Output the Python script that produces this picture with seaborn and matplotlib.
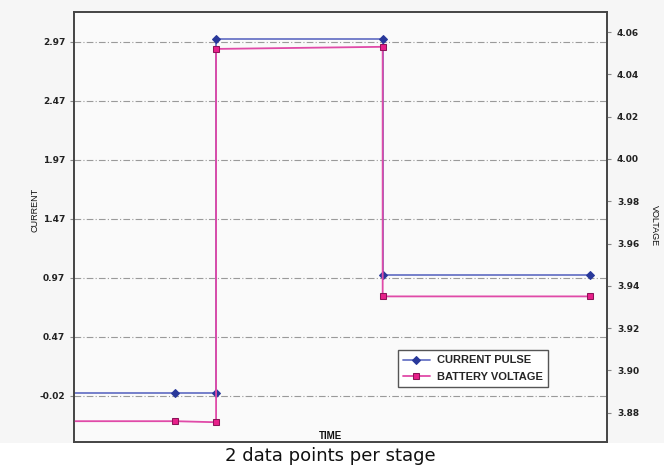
"""Current pulse vs battery voltage, step plot with two y axes."""

import matplotlib.pyplot as plt
import pandas as pd
import seaborn as sns
from matplotlib.patches import Rectangle

# Time stamps (arbitrary units), first point lies before the visible window
time = [-5.0, 10.15, 14.25, 14.25, 30.9, 30.9, 51.65]
current = [-0.01, -0.01, -0.01, 2.99, 2.99, 0.99, 0.99]
voltage = [3.876, 3.876, 3.8755, 4.052, 4.053, 3.935, 3.935]

current_ticks = [-0.03, 0.47, 0.97, 1.47, 1.97, 2.47, 2.97]
current_labels = ["-0.02", "0.47", "0.97", "1.47", "1.97", "2.47", "2.97"]
voltage_ticks = [3.88, 3.90, 3.92, 3.94, 3.96, 3.98, 4.00, 4.02, 4.04, 4.06]

df = pd.DataFrame({"time": time, "current": current, "voltage": voltage})

sns.set_style("white")
plt.rcParams["font.family"] = ["Liberation Sans", "DejaVu Sans"]

fig = plt.figure(figsize=(6.64, 4.70), dpi=100, facecolor="#f6f6f6")
fig.patches.append(
    Rectangle((0, 0), 1, 0.058, transform=fig.transFigure, facecolor="white",
              edgecolor="none", zorder=0)
)
ax = fig.add_axes([0.1107, 0.0602, 0.8039, 0.9149])
ax.set_facecolor("#fafafa")
ax2 = ax.twinx()

sns.lineplot(data=df, x="time", y="current", ax=ax, sort=False, estimator=None,
             color="#6a76c6", lw=1.3, marker="D", markersize=4.5,
             markerfacecolor="#28389a", markeredgecolor="#28389a",
             label="CURRENT PULSE", legend=False)
sns.lineplot(data=df, x="time", y="voltage", ax=ax2, sort=False, estimator=None,
             color="#e04aa8", lw=1.3, marker="s", markersize=4.5,
             markerfacecolor="#e8208a", markeredgecolor="#8c1458",
             label="BATTERY VOLTAGE", legend=False)

ax.set_xlim(0, 53.35)
ax.set_ylim(-0.42, 3.224)
ax2.set_ylim(3.8663, 4.0696)
ax.set_xticks([])

ax.set_yticks(current_ticks)
ax.set_yticklabels(current_labels, family="DejaVu Sans", weight="bold",
                   fontsize=6.5, color="#222222")
ax2.set_yticks(voltage_ticks)
ax2.set_yticklabels([f"{v:.2f}" for v in voltage_ticks], family="DejaVu Sans",
                    weight="bold", fontsize=6.5, color="#222222")
ax.tick_params(axis="y", length=3, color="#888888", pad=3)
ax2.tick_params(axis="y", length=3, color="#888888", pad=4)

ax.grid(axis="y", color="#9a9a9a", lw=0.8, linestyle=(0, (6, 2, 1, 2)))
for a in (ax, ax2):
    for s in a.spines.values():
        s.set_color("#444444")
        s.set_linewidth(1.2)

ax.set_xlabel("")
ax.set_ylabel("")
ax2.set_ylabel("")
fig.text(0.053, 0.553, "CURRENT", rotation=90, fontsize=6.5,
         ha="center", va="center", color="#111111")
fig.text(0.986, 0.52, "VOLTAGE", rotation=270, fontsize=6.5,
         ha="center", va="center", color="#111111")
fig.text(0.497, 0.072, "TIME", fontsize=7, weight="bold",
         ha="center", va="center", color="#111111")
fig.text(0.497, 0.030, "2 data points per stage", family="DejaVu Sans",
         fontsize=13, ha="center", va="center", color="#111111")

h1, l1 = ax.get_legend_handles_labels()
h2, l2 = ax2.get_legend_handles_labels()
leg = ax2.legend(h1 + h2, l1 + l2, loc="lower left",
                 bbox_to_anchor=(0.608, 0.127), borderaxespad=0,
                 prop={"size": 8, "weight": "bold"}, frameon=True,
                 fancybox=False, handlelength=2.4, handletextpad=0.7,
                 borderpad=0.45, labelspacing=0.6)
leg.get_frame().set_edgecolor("#555555")
leg.get_frame().set_facecolor("white")
leg.get_frame().set_alpha(1)

fig.savefig("out.png", dpi=100, facecolor=fig.get_facecolor())
